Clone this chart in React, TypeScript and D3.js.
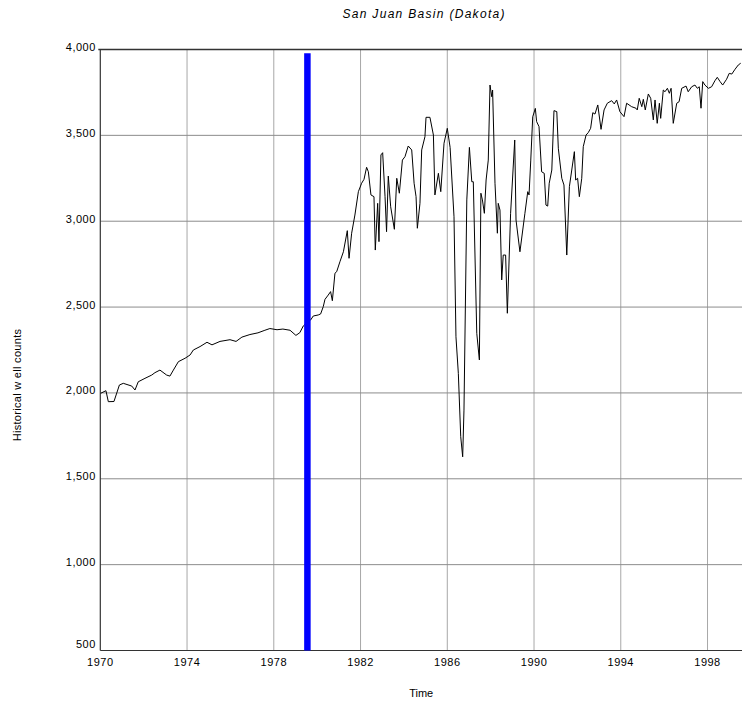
import React from "react";
import * as d3 from "d3";

const times: number[] = [
  1970.02, 1970.26, 1970.37, 1970.63, 1970.76, 1970.88, 1971.06, 1971.45, 1971.6, 1971.75,
  1972.06, 1972.37, 1972.52, 1972.75, 1973.06, 1973.21, 1973.37, 1973.6, 1973.91, 1974.14,
  1974.29, 1974.6, 1974.92, 1975.15, 1975.52, 1975.98, 1976.26, 1976.53, 1976.9, 1977.27,
  1977.59, 1977.82, 1978.15, 1978.42, 1978.75, 1979.02, 1979.2, 1979.36, 1979.53, 1979.7,
  1979.82, 1980.05, 1980.16, 1980.28, 1980.36, 1980.51, 1980.62, 1980.7, 1980.82, 1980.9,
  1981.05, 1981.21, 1981.39, 1981.47, 1981.59, 1981.74, 1981.9, 1982.05, 1982.16, 1982.28,
  1982.36, 1982.48, 1982.62, 1982.68, 1982.79, 1982.85, 1982.94, 1983.02, 1983.13, 1983.2,
  1983.28, 1983.39, 1983.56, 1983.67, 1983.79, 1983.93, 1984.05, 1984.2, 1984.36, 1984.47,
  1984.56, 1984.62, 1984.74, 1984.82, 1984.97, 1985.02, 1985.2, 1985.36, 1985.43, 1985.59,
  1985.7, 1985.85, 1986.0, 1986.13, 1986.31, 1986.4, 1986.51, 1986.62, 1986.71, 1986.77,
  1986.9, 1987.02, 1987.13, 1987.2, 1987.36, 1987.48, 1987.55, 1987.62, 1987.71, 1987.79,
  1987.89, 1987.97, 1988.05, 1988.09, 1988.2, 1988.31, 1988.35, 1988.43, 1988.51, 1988.58,
  1988.69, 1988.77, 1988.92, 1989.11, 1989.17, 1989.35, 1989.58, 1989.71, 1989.77, 1989.85,
  1989.94, 1990.06, 1990.12, 1990.23, 1990.35, 1990.47, 1990.55, 1990.63, 1990.7, 1990.82,
  1990.92, 1991.05, 1991.12, 1991.28, 1991.38, 1991.51, 1991.63, 1991.74, 1991.86, 1991.92,
  1992.01, 1992.09, 1992.2, 1992.27, 1992.4, 1992.5, 1992.61, 1992.71, 1992.81, 1992.94,
  1993.09, 1993.23, 1993.38, 1993.58, 1993.7, 1993.81, 1993.96, 1994.15, 1994.27, 1994.5,
  1994.7, 1994.76, 1994.85, 1994.97, 1995.04, 1995.13, 1995.27, 1995.38, 1995.5, 1995.58,
  1995.68, 1995.78, 1995.84, 1995.96, 1996.04, 1996.15, 1996.24, 1996.32, 1996.42, 1996.58,
  1996.69, 1996.81, 1997.01, 1997.11, 1997.27, 1997.42, 1997.53, 1997.62, 1997.7, 1997.78,
  1997.88, 1998.04, 1998.19, 1998.34, 1998.45, 1998.58, 1998.7, 1998.88, 1999.0, 1999.12,
  1999.27, 1999.42, 1999.53,
];

const wellCounts: number[] = [
  1998, 2013, 1949, 1950, 2000, 2046, 2056, 2040, 2017, 2065,
  2085, 2104, 2118, 2133, 2104, 2098, 2133, 2182, 2202, 2221,
  2250, 2270, 2295, 2280, 2300, 2310, 2300, 2325, 2340, 2350,
  2365, 2375, 2368, 2372, 2365, 2335, 2351, 2390, 2410, 2425,
  2448, 2454, 2460, 2502, 2545, 2570, 2590, 2537, 2697, 2706,
  2764, 2822, 2945, 2784, 2930, 3036, 3172, 3221, 3244, 3314,
  3288, 3153, 3143, 2832, 3104, 2881, 3386, 3399, 3143, 2939,
  3263, 3084, 2953, 3250, 3163, 3356, 3376, 3438, 3415, 3221,
  3143, 2959, 3104, 3415, 3492, 3605, 3605, 3502, 3153, 3279,
  3172, 3454, 3541, 3430, 3026, 2327, 2114, 1745, 1628, 1900,
  3124, 3430, 3230, 3230, 2347, 2192, 3163, 3124, 3046, 3240,
  3356, 3793, 3725, 3764, 3221, 2930, 3104, 3065, 2658, 2803,
  2803, 2464, 3046, 3473, 3007, 2822, 3046, 3172, 3153, 3356,
  3608, 3657, 3580, 3551, 3288, 3279, 3094, 3088, 3221, 3298,
  3644, 3638, 3425, 3250, 3211, 2803, 3201, 3298, 3405, 3240,
  3250, 3143, 3250, 3434, 3502, 3516, 3541, 3632, 3624, 3677,
  3535, 3648, 3687, 3702, 3683, 3706, 3638, 3609, 3687, 3667,
  3658, 3648, 3716, 3667, 3710, 3648, 3741, 3716, 3590, 3706,
  3570, 3687, 3599, 3764, 3754, 3774, 3745, 3774, 3570, 3687,
  3696, 3774, 3787, 3754, 3783, 3793, 3774, 3783, 3658, 3813,
  3793, 3774, 3783, 3818, 3838, 3813, 3793, 3827, 3861, 3857,
  3885, 3910, 3920,
];

const xTicks: number[] = [1970, 1974, 1978, 1982, 1986, 1990, 1994, 1998];
const yTicks: number[] = [500, 1000, 1500, 2000, 2500, 3000, 3500, 4000];
const markerYear = 1979.55;
const markerTop = 3978;

const title = "San Juan Basin (Dakota)";
const xLabel = "Time";
const yLabel = "Historical w ell counts";

export default function App() {
  const W = 742;
  const H = 706;
  const left = 100.3;
  const right = 742;
  const top = 49.5;
  const bottom = 650.5;

  const x = d3.scaleLinear().domain([1970, 1999.59]).range([left, right]);
  const y = d3.scaleLinear().domain([500, 4000]).range([bottom, top]);
  const fmt = d3.format(",");

  const data = times.map((t, i) => [t, wellCounts[i]] as [number, number]);
  const line = d3
    .line<[number, number]>()
    .x((d) => x(d[0]))
    .y((d) => y(d[1]));

  const font = "Arial, 'Liberation Sans', Helvetica, sans-serif";

  return (
    <svg
      width={W}
      height={H}
      style={{ position: "absolute", left: 0, top: 0, background: "#fff" }}
      fontFamily={font}
    >
      <rect x={0} y={0} width={W} height={H} fill="#fff" />
      <text
        x={(left + right) / 2 + 3}
        y={18}
        textAnchor="middle"
        fontSize={12}
        fontStyle="italic"
        letterSpacing={1.3}
        fill="#000"
      >
        {title}
      </text>

      {/* grid */}
      {xTicks.slice(1).map((t) => (
        <line key={"gx" + t} x1={x(t)} x2={x(t)} y1={top} y2={bottom} stroke="#a8a8a8" strokeWidth={1} />
      ))}
      {yTicks.slice(1, -1).map((v) => (
        <line key={"gy" + v} x1={left} x2={right} y1={y(v)} y2={y(v)} stroke="#8c8c8c" strokeWidth={1} />
      ))}

      {/* frame */}
      <line x1={left - 2} x2={right} y1={top} y2={top} stroke="#333" strokeWidth={1.5} />
      <line x1={left} x2={right} y1={bottom} y2={bottom} stroke="#333" strokeWidth={1.2} />
      <line x1={left} x2={left} y1={top} y2={bottom} stroke="#333" strokeWidth={1.2} />

      {/* y tick labels */}
      {yTicks.map((v) => (
        <text
          key={"ly" + v}
          x={left - 4.5}
          y={v === 500 ? y(v) - 2.5 : y(v) + 1.5}
          textAnchor="end"
          fontSize={11}
          letterSpacing={0.5}
          fill="#000"
        >
          {fmt(v)}
        </text>
      ))}

      {/* x tick labels */}
      {xTicks.map((t) => (
        <text
          key={"lx" + t}
          x={x(t)}
          y={665.5}
          textAnchor="middle"
          fontSize={11}
          letterSpacing={0.5}
          fill="#000"
        >
          {t}
        </text>
      ))}

      {/* axis titles */}
      <text x={(left + right) / 2} y={697} textAnchor="middle" fontSize={11} fill="#000">
        {xLabel}
      </text>
      <text
        transform={`translate(21,${(top + bottom) / 2 + 35}) rotate(-90)`}
        textAnchor="middle"
        fontSize={11}
        letterSpacing={0.3}
        fill="#000"
      >
        {yLabel}
      </text>

      {/* data */}
      <path d={line(data) || ""} fill="none" stroke="#000" strokeWidth={1} />

      {/* marker bar */}
      <line
        x1={x(markerYear)}
        x2={x(markerYear)}
        y1={y(markerTop)}
        y2={bottom}
        stroke="#0000ff"
        strokeWidth={6.5}
      />
    </svg>
  );
}
